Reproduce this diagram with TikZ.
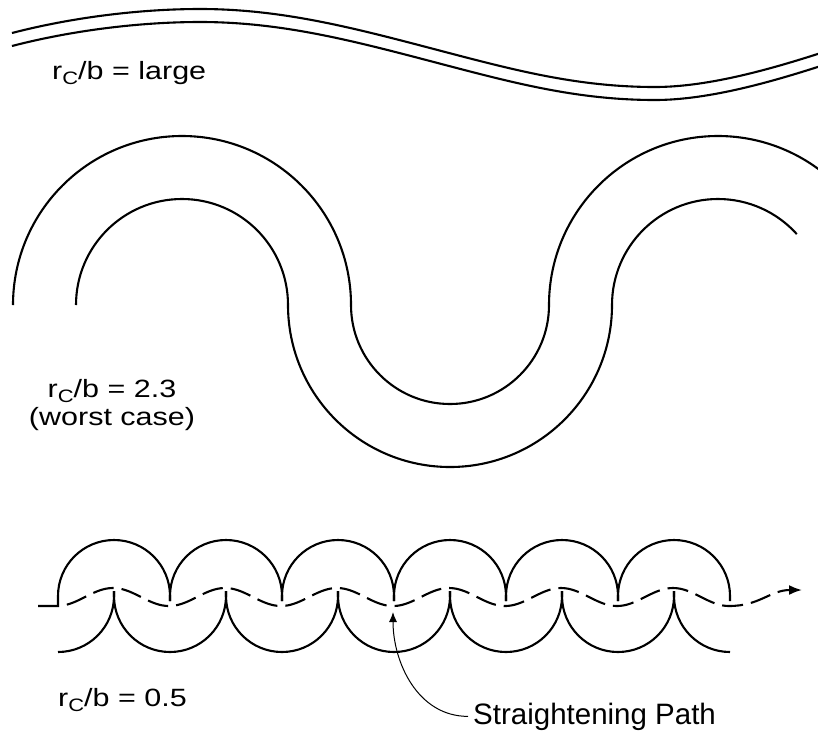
\documentclass[tikz,border=0pt]{standalone}
\usepackage{graphicx}
\usepackage{fontspec}
\setmainfont{Liberation Sans}
\usetikzlibrary{arrows.meta}
\newcommand\rcsub{r\raisebox{-5pt}{\fontsize{18}{18}\selectfont C}}
\newcommand\widelbl[1]{\scalebox{1.22}[1]{#1}}
\tikzset{
  curve/.style={line width=2.1pt},
  lbl/.style={font=\fontsize{25}{29}\selectfont, inner sep=0pt},
  pathdash/.style={line width=2.1pt, dash pattern=on 21pt off 8pt},
  pointer/.style={line width=1pt, -{Latex[length=10pt,width=8pt]}},
}
\begin{document}
\begin{tikzpicture}[x=1pt,y=1pt]
\useasboundingbox (0,0) rectangle (818,-734);
\clip (0,0) rectangle (818,-734);
% ---- top: large radius ----
\foreach \d in {0,13}{
  \draw[curve] (12,-33-\d) .. controls (72,-17.4-\d) and (140,-9-\d) .. (200,-9-\d)
    .. controls (280,-9-\d) and (350,-27-\d) .. (430,-48-\d)
    .. controls (510,-69-\d) and (575,-87-\d) .. (655,-87-\d)
    .. controls (710,-87-\d) and (775,-68-\d) .. (830,-50-\d);
}
\node[lbl, anchor=base west] (lblA) at (52,-79) {\widelbl{\rcsub/b = large}};
% ---- middle: r_c/b = 2.3 ----
\draw[curve] (13,-305) arc[start angle=180, end angle=0, radius=169]
  arc[start angle=180, end angle=360, radius=99]
  arc[start angle=180, end angle=50, radius=169];
\draw[curve] (76,-305) arc[start angle=180, end angle=0, radius=106]
  arc[start angle=180, end angle=360, radius=162]
  arc[start angle=180, end angle=42, radius=106];
\node[lbl, anchor=base] (lblB) at (112,-397) {\widelbl{\rcsub/b = 2.3}};
\node[lbl, anchor=base] (lblC) at (112,-425) {\widelbl{(worst case)}};
% ---- bottom: r_c/b = 0.5 ----
\draw[curve] (58,-606) -- (58,-596) arc[start angle=180, end angle=0, radius=56] -- ++(0,-5);
\foreach \k in {1,...,5}{
  \pgfmathsetmacro\xa{58+112*\k}
  \draw[curve] (\xa,-601) -- (\xa,-596) arc[start angle=180, end angle=0, radius=56] -- ++(0,-5);
}
\draw[curve] (58,-652) arc[start angle=270, end angle=360, radius=56] -- ++(0,5);
\foreach \k in {0,...,4}{
  \pgfmathsetmacro\xb{114+112*\k}
  \draw[curve] (\xb,-591) -- (\xb,-596) arc[start angle=180, end angle=360, radius=56] -- ++(0,5);
}
\draw[curve] (674,-591) -- (674,-596) arc[start angle=180, end angle=270, radius=56];
\draw[pathdash, -{Latex[length=13pt,width=10pt]}] (38,-606) -- (58,-606)
  -- plot[domain=58:729, samples=240] (\x,{-597+9*cos(3.2142857*(\x-113))})
  .. controls (760,-606) and (770,-590) .. (802,-590);
\node[lbl, anchor=base west] (lblD) at (58,-706) {\widelbl{\rcsub/b = 0.5}};
\node[font=\fontsize{29.5}{34}\selectfont, anchor=base west, inner ysep=0pt, inner xsep=5pt] (sp) at (468,-724) {Straightening Path};
\coordinate (tip) at (393,-612);
\draw[pointer] (sp.west) to[out=180,in=-90] (tip);
\end{tikzpicture}
\end{document}
